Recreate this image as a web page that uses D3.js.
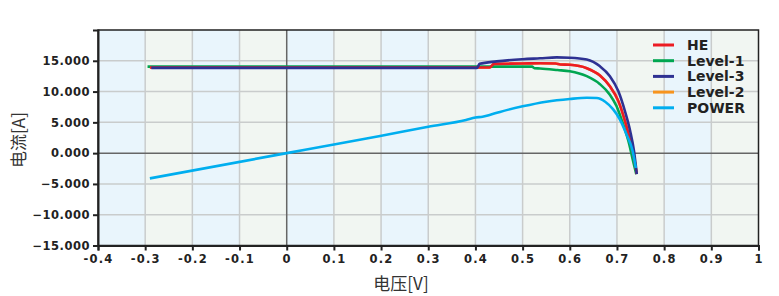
<!DOCTYPE html>
<html><head><meta charset="utf-8">
<script src="https://cdn.jsdelivr.net/npm/d3@7"></script>
<style>
html,body{margin:0;padding:0;background:#fff;}
svg{display:block;}
</style></head>
<body>
<svg id="chart" width="779" height="296"></svg>
<script>
// ---- data ----
const xTicks = [-0.4,-0.3,-0.2,-0.1,0,0.1,0.2,0.3,0.4,0.5,0.6,0.7,0.8,0.9,1];
const yTicks = [-15,-10,-5,0,5,10,15];
const seriesNames = ["HE","Level-1","Level-3","Level-2","POWER"];
const seriesColors = ["#ec1c24","#00a651","#2e3192","#f7941d","#00aeef"];

const heV   = [-0.29,0.0,0.2,0.4,0.43,0.44,0.5,0.537,0.57,0.58,0.6,0.636,0.664,0.685,0.703,0.717,0.728,0.736,0.742];
const heI   = [13.9,13.9,13.9,13.9,13.9,14.5,14.55,14.6,14.55,14.4,14.35,13.8,12.6,10.85,8.45,5.2,2.0,-0.7,-3.4];
const lv1V  = [-0.295,0.2,0.4,0.52,0.525,0.537,0.574,0.6,0.636,0.664,0.685,0.699,0.713,0.726,0.733,0.741];
const lv1I  = [14.05,14.05,14.05,14.05,13.8,13.75,13.5,13.3,12.5,11.2,9.5,7.65,4.7,1.45,-0.9,-3.4];
const lv3V  = [-0.287,0.2,0.4,0.403,0.409,0.445,0.5,0.537,0.572,0.6,0.636,0.664,0.685,0.703,0.717,0.728,0.736,0.742];
const lv3I  = [13.85,13.85,13.85,13.85,14.5,14.9,15.25,15.4,15.55,15.5,15.2,14.1,12.5,10.05,6.8,3.6,0.4,-3.4];
const lv2V  = [-0.29,0.0,0.2,0.4,0.43,0.44,0.5,0.537,0.57,0.58,0.6,0.636,0.664,0.685,0.703,0.717,0.728,0.736,0.742];
const lv2I  = [13.9,13.9,13.9,13.9,13.9,14.5,14.55,14.6,14.55,14.4,14.35,13.8,12.6,10.85,8.45,5.2,2.0,-0.7,-3.4];
const powV  = [-0.29,0,0.1,0.198,0.3,0.38,0.4,0.415,0.43,0.452,0.5,0.55,0.6,0.636,0.657,0.675,0.692,0.706,0.72,0.733,0.74];
const powI  = [-4.1,0,1.4,2.8,4.3,5.4,5.8,5.9,6.2,6.7,7.6,8.35,8.8,9.0,8.95,8.35,7.1,5.5,3.1,0.4,-2.4];

// ---- layout ----
const svg = d3.select("#chart");
const L = 98, R = 758.5, T = 30, B = 245.5;
const x = d3.scaleLinear().domain([-0.4,1]).range([L,R]);
const y = d3.scaleLinear().domain([-15,20]).range([B,T]);

// background bands
const bands = d3.range(xTicks.length-1);
svg.append("g").selectAll("rect").data(bands).join("rect")
  .attr("x", i => x(xTicks[i])).attr("width", i => x(xTicks[i+1]) - x(xTicks[i]))
  .attr("y", T).attr("height", B - T)
  .attr("fill", i => i % 2 === 0 ? "#e9f5fc" : "#f1f6f2");

// grid
const g = svg.append("g");
g.selectAll("line.vx").data(xTicks.filter(v => v !== -0.4 && v !== 1 && v !== 0)).join("line")
  .attr("x1", d => x(d)).attr("x2", d => x(d)).attr("y1", T).attr("y2", B)
  .attr("stroke", "#c9cccc").attr("stroke-width", 1.5);
g.selectAll("line.hy").data(yTicks.filter(v => v !== -15 && v !== 0)).join("line")
  .attr("x1", L).attr("x2", R).attr("y1", d => y(d)).attr("y2", d => y(d))
  .attr("stroke", "#c9cccc").attr("stroke-width", 1.5);
g.append("line").attr("x1", x(0)).attr("x2", x(0)).attr("y1", T).attr("y2", B)
  .attr("stroke", "#666").attr("stroke-width", 1.5);
g.append("line").attr("x1", L).attr("x2", R).attr("y1", y(0)).attr("y2", y(0))
  .attr("stroke", "#666").attr("stroke-width", 1.5);

// lines
const series = [
  {name:"Level-2", v:lv2V, i:lv2I, c:seriesColors[3]},
  {name:"Level-1", v:lv1V, i:lv1I, c:seriesColors[1]},
  {name:"HE", v:heV, i:heI, c:seriesColors[0]},
  {name:"Level-3", v:lv3V, i:lv3I, c:seriesColors[2]},
  {name:"POWER", v:powV, i:powI, c:seriesColors[4]}
];
const line = d3.line().x(d => x(d[0])).y(d => y(d[1])).curve(d3.curveMonotoneX);
svg.append("g").selectAll("path").data(series).join("path")
  .attr("d", s => line(s.v.map((v,k) => [v, s.i[k]])))
  .attr("fill", "none").attr("stroke", s => s.c).attr("stroke-width", 2.6)
  .attr("stroke-linejoin", "round");

// frame
svg.append("rect").attr("x", L).attr("y", T).attr("width", R - L).attr("height", B - T)
  .attr("fill", "none").attr("stroke", "#222").attr("stroke-width", 1.5);

// axes
const fmtY = d3.format(".3f");
const yAxis = svg.append("g").attr("transform", `translate(${L},0)`)
  .call(d3.axisLeft(y).tickValues(yTicks).tickSize(5).tickPadding(3).tickFormat(fmtY));
const xAxis = svg.append("g").attr("transform", `translate(0,${B})`)
  .call(d3.axisBottom(x).tickValues(xTicks).tickSize(5).tickPadding(4).tickFormat(d => String(+d.toFixed(1))));
[yAxis, xAxis].forEach(a => {
  a.select(".domain").attr("stroke", "#222").attr("stroke-width", 2);
  a.selectAll(".tick line").attr("stroke", "#222").attr("stroke-width", 2);
  a.selectAll(".tick text").attr("fill", "#222")
    .style("font-family", "DejaVu Sans").style("font-weight", "bold").style("font-size", "11.5px");
});
xAxis.selectAll(".tick text").style("letter-spacing", "1.2px");
yAxis.selectAll(".tick text").style("letter-spacing", "0.5px");

// axis titles
svg.append("text").attr("x", 401).attr("y", 290).attr("text-anchor", "middle")
  .style("font-family", "Noto Sans CJK SC").style("font-size", "17px").attr("fill", "#333")
  .text("电压[V]");
svg.append("text").attr("transform", "translate(25,140) rotate(-90)").attr("text-anchor", "middle")
  .style("font-family", "Noto Sans CJK SC").style("font-size", "17px").attr("fill", "#333")
  .text("电流[A]");

// legend
const legendOrder = [0,1,2,3,4];
const lg = svg.append("g");
legendOrder.forEach((k, j) => {
  const yy = 45 + j * 15.7;
  lg.append("line").attr("x1", 653).attr("x2", 674).attr("y1", yy).attr("y2", yy)
    .attr("stroke", seriesColors[k]).attr("stroke-width", 3);
  lg.append("text").attr("x", 687).attr("y", yy).attr("dy", "0.36em")
    .style("font-family", "DejaVu Sans").style("font-weight", "bold").style("font-size", "14px")
    .attr("fill", "#222").text(seriesNames[k]);
});
</script>
</body></html>
